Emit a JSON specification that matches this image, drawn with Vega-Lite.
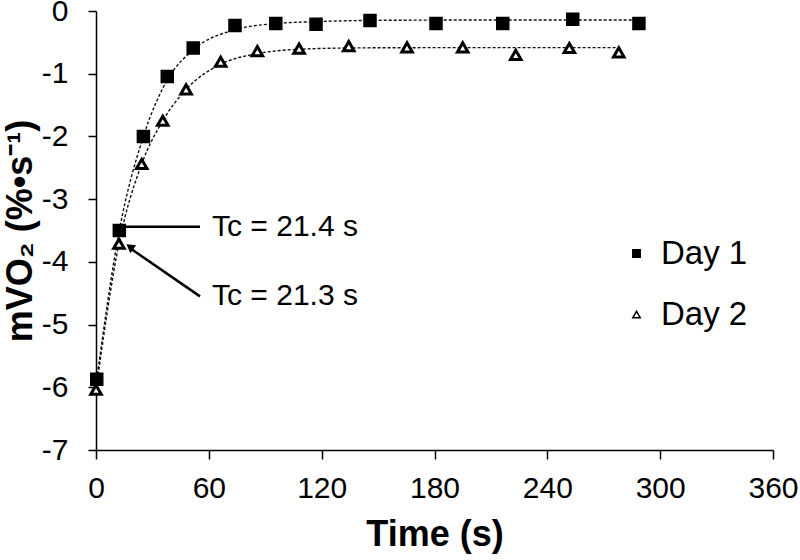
{
  "$schema": "https://vega.github.io/schema/vega-lite/v6.json",
  "autosize": "none",
  "width": 677,
  "height": 439,
  "padding": {"left": 96, "top": 11, "right": 27, "bottom": 110},
  "background": "white",
  "config": {
    "view": {"stroke": null},
    "font": "Liberation Sans",
    "axis": {
      "grid": false,
      "domainColor": "black",
      "domainWidth": 1.5,
      "tickColor": "black",
      "tickWidth": 1.5,
      "labelColor": "black",
      "labelFont": "Liberation Sans",
      "labelFontSize": 30,
      "titleColor": "black",
      "titleFont": "Liberation Sans",
      "titleFontWeight": "bold",
      "titleFontSize": 36
    }
  },
  "datasets": {
    "points": [
      {"day": "Day 1", "t": 0.4, "v": -5.87},
      {"day": "Day 1", "t": 12.4, "v": -3.5},
      {"day": "Day 1", "t": 25.2, "v": -2.0},
      {"day": "Day 1", "t": 37.9, "v": -1.045},
      {"day": "Day 1", "t": 51.7, "v": -0.59},
      {"day": "Day 1", "t": 73.9, "v": -0.23},
      {"day": "Day 1", "t": 95.6, "v": -0.2},
      {"day": "Day 1", "t": 117, "v": -0.21},
      {"day": "Day 1", "t": 145.7, "v": -0.15},
      {"day": "Day 1", "t": 180.8, "v": -0.2},
      {"day": "Day 1", "t": 216.3, "v": -0.2},
      {"day": "Day 1", "t": 253.5, "v": -0.13},
      {"day": "Day 1", "t": 288.7, "v": -0.2},
      {"day": "Day 2", "t": 0, "v": -6.04},
      {"day": "Day 2", "t": 12.2, "v": -3.71},
      {"day": "Day 2", "t": 24.3, "v": -2.44},
      {"day": "Day 2", "t": 35.5, "v": -1.75},
      {"day": "Day 2", "t": 47.9, "v": -1.25},
      {"day": "Day 2", "t": 66.3, "v": -0.81},
      {"day": "Day 2", "t": 85.8, "v": -0.64},
      {"day": "Day 2", "t": 108, "v": -0.6},
      {"day": "Day 2", "t": 134.4, "v": -0.56},
      {"day": "Day 2", "t": 165.4, "v": -0.58},
      {"day": "Day 2", "t": 195, "v": -0.58},
      {"day": "Day 2", "t": 223.2, "v": -0.7},
      {"day": "Day 2", "t": 251.7, "v": -0.59},
      {"day": "Day 2", "t": 278, "v": -0.66}
    ],
    "fit": [
      {"day": "Day 1", "t": 0.4, "v": -5.87},
      {"day": "Day 1", "t": 12.4, "v": -3.5},
      {"day": "Day 1", "t": 25.2, "v": -2.0},
      {"day": "Day 1", "t": 37.9, "v": -1.1},
      {"day": "Day 1", "t": 51.7, "v": -0.62},
      {"day": "Day 1", "t": 73.9, "v": -0.3},
      {"day": "Day 1", "t": 95.6, "v": -0.2},
      {"day": "Day 1", "t": 117, "v": -0.17},
      {"day": "Day 1", "t": 145.7, "v": -0.15},
      {"day": "Day 1", "t": 180.8, "v": -0.145},
      {"day": "Day 1", "t": 216.3, "v": -0.143},
      {"day": "Day 1", "t": 253.5, "v": -0.143},
      {"day": "Day 1", "t": 288.7, "v": -0.143},
      {"day": "Day 2", "t": 0, "v": -6.04},
      {"day": "Day 2", "t": 12.2, "v": -3.71},
      {"day": "Day 2", "t": 24.3, "v": -2.44},
      {"day": "Day 2", "t": 35.5, "v": -1.75},
      {"day": "Day 2", "t": 47.9, "v": -1.25},
      {"day": "Day 2", "t": 66.3, "v": -0.85},
      {"day": "Day 2", "t": 85.8, "v": -0.68},
      {"day": "Day 2", "t": 108, "v": -0.61},
      {"day": "Day 2", "t": 134.4, "v": -0.59},
      {"day": "Day 2", "t": 165.4, "v": -0.585},
      {"day": "Day 2", "t": 223.2, "v": -0.584},
      {"day": "Day 2", "t": 278, "v": -0.584}
    ],
    "leaders": [
      {"t": 15.4, "v": -3.44, "t2": 55.3, "v2": -3.44},
      {"t": 18.0, "v": -3.78, "t2": 55.3, "v2": -4.55}
    ],
    "arrowheads": [
      {"t": 18.0, "v": -3.76, "angle": 306}
    ],
    "labels": [
      {"t": 61.7, "v": -3.45, "text": "Tc = 21.4 s"},
      {"t": 61.7, "v": -4.55, "text": "Tc = 21.3 s"}
    ]
  },
  "layer": [
    {
      "data": {"name": "fit"},
      "mark": {"type": "line", "interpolate": "monotone", "color": "#111", "strokeWidth": 1.4, "strokeDash": [3, 2]},
      "encoding": {
        "x": {"field": "t", "type": "quantitative", "scale": {"domain": [0, 360], "nice": false},
          "axis": {"values": [0, 60, 120, 180, 240, 300, 360], "title": "Time (s)", "tickSize": 9, "labelPadding": 14, "titlePadding": 14, "labelFlush": false}},
        "y": {"field": "v", "type": "quantitative", "scale": {"domain": [-7, 0], "nice": false, "zero": false},
          "axis": {"values": [-7, -6, -5, -4, -3, -2, -1, 0], "labelExpr": "datum.value == 0 ? '0' : '-' + abs(datum.value)", "title": "mVO₂ (%•s⁻¹)", "tickSize": 8, "labelPadding": 20, "titlePadding": 2}},
        "detail": {"field": "day"}
      }
    },
    {
      "data": {"name": "points"},
      "mark": {"type": "point", "stroke": "black", "strokeWidth": 3, "opacity": 1, "fillOpacity": 1, "size": 110},
      "encoding": {
        "x": {"field": "t", "type": "quantitative"},
        "y": {"field": "v", "type": "quantitative"},
        "shape": {"field": "day", "type": "nominal",
          "scale": {"domain": ["Day 1", "Day 2"], "range": ["square", "triangle-up"]},
          "legend": {"title": null, "orient": "none", "legendX": 524, "legendY": 226, "labelFontSize": 33, "labelFont": "Liberation Sans", "labelColor": "black", "symbolSize": 55, "labelOffset": 8, "rowPadding": 27, "padding": 0,
            "encode": {"symbols": {"update": {"fill": {"scale": "fill", "field": "value"}, "stroke": {"value": "black"}, "strokeWidth": {"value": 3}, "opacity": {"value": 1}, "fillOpacity": {"value": 1}}}}}},
        "fill": {"field": "day", "type": "nominal",
          "scale": {"domain": ["Day 1", "Day 2"], "range": ["black", "white"]},
          "legend": null}
      }
    },
    {
      "data": {"name": "leaders"},
      "mark": {"type": "rule", "color": "black", "strokeWidth": 2.5},
      "encoding": {
        "x": {"field": "t", "type": "quantitative"},
        "y": {"field": "v", "type": "quantitative"},
        "x2": {"field": "t2"},
        "y2": {"field": "v2"}
      }
    },
    {
      "data": {"name": "arrowheads"},
      "mark": {"type": "point", "shape": "triangle-up", "filled": true, "color": "black", "opacity": 1, "size": 95},
      "encoding": {
        "x": {"field": "t", "type": "quantitative"},
        "y": {"field": "v", "type": "quantitative"},
        "angle": {"field": "angle", "type": "quantitative", "scale": null}
      }
    },
    {
      "data": {"name": "labels"},
      "mark": {"type": "text", "align": "left", "baseline": "middle", "font": "Liberation Sans", "fontSize": 30, "color": "black"},
      "encoding": {
        "x": {"field": "t", "type": "quantitative"},
        "y": {"field": "v", "type": "quantitative"},
        "text": {"field": "text"}
      }
    }
  ]
}
